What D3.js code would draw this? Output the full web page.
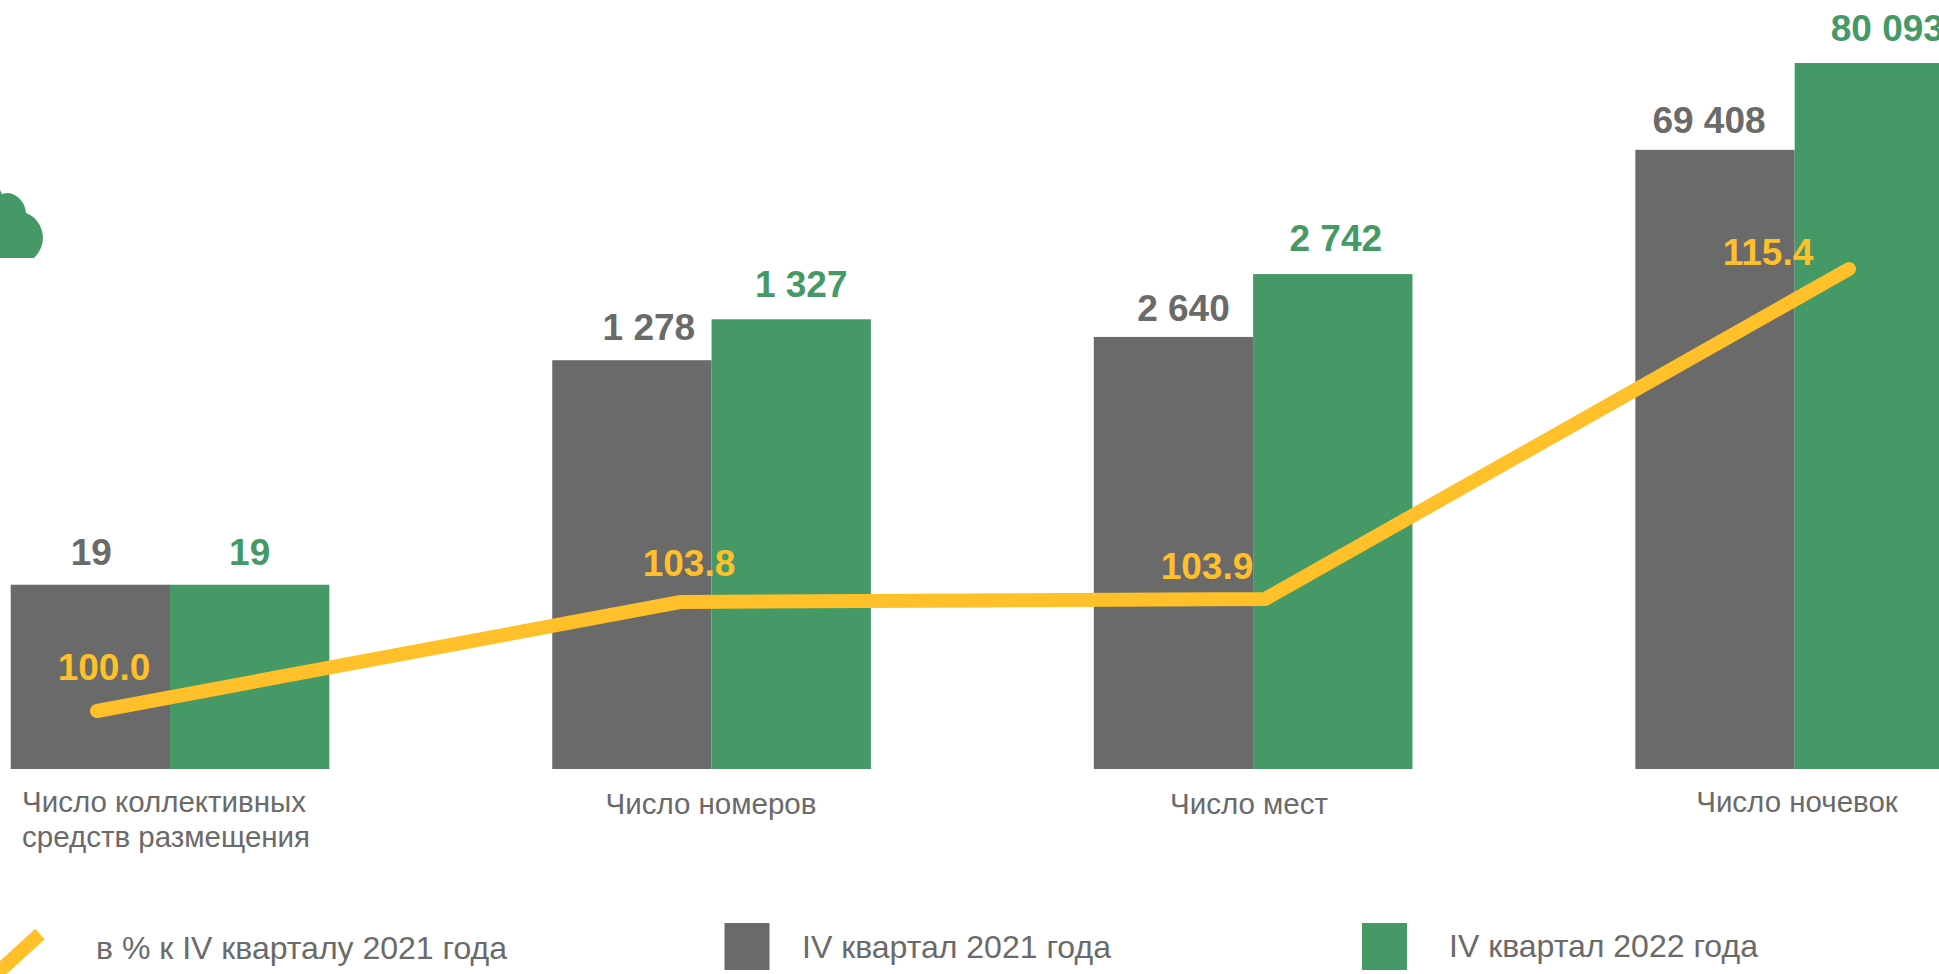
<!DOCTYPE html>
<html lang="ru">
<head>
<meta charset="utf-8">
<title>Коллективные средства размещения</title>
<script src="https://cdn.jsdelivr.net/npm/d3@7"></script>
<style>
  html, body { margin: 0; padding: 0; background: #fff; overflow: hidden; }
  svg { display: block; }
  text { font-family: "Liberation Sans", Arial, sans-serif; }
</style>
</head>
<body>
<div id="vis-display"></div>
<script>
const CATEGORIES = ["Число коллективных средств размещения", "Число номеров", "Число мест", "Число ночевок"];
const SERIES = ["IV квартал 2021 года", "IV квартал 2022 года"];
const LINE_NAME = "в % к IV кварталу 2021 года";

const LABELS_2021 = ["19", "1 278", "2 640", "69 408"];
const LABELS_2022 = ["19", "1 327", "2 742", "80 093"];

// The bars are not to scale with their labels, so these are drawn heights (tallest bar = 100)
const HEIGHTS_2021 = [26.1, 57.9, 61.2, 87.7];
const HEIGHTS_2022 = [26.1, 63.7, 70.1, 100];

const PERCENT = [100.0, 103.8, 103.9, 115.4];

const GREY = "#6a6a6a";
const GREEN = "#459966";
const YELLOW = "#ffc02a";

const W = 1939, H = 974;

const svg = d3.select("#vis-display").append("svg")
  .attr("width", W)
  .attr("height", H);

// ── Scales ───────────────────────────────────────────────────────────────────

const xGroup = d3.scaleBand()
  .domain(CATEGORIES)
  .range([10.7, 1954])
  .paddingInner(0.4116);

const xBar = d3.scaleBand()
  .domain(SERIES)
  .range([0, xGroup.bandwidth()]);

const yBar = d3.scaleLinear()
  .domain([0, 100])
  .range([769, 63]);

const xLine = d3.scalePoint()
  .domain(CATEGORIES)
  .range([97, 1849]);

const yLine = d3.scaleLinear()
  .domain([100, 115.4])
  .range([711, 269]);

// ── Cloud fragment at the left edge ──────────────────────────────────────────

svg.append("path")
  .attr("d", "M-4,258 L34,258 C40,252 43,245 43,238 C43,226 35,216 26,213 C25,201 16,193 7,193 L2,194 L0,190 L-4,190 Z")
  .attr("fill", GREEN);

// ── Bars ─────────────────────────────────────────────────────────────────────

const barRows = [
  { series: SERIES[0], color: GREY, heights: HEIGHTS_2021, labels: LABELS_2021,
    dx: [1, 17, 10, -6], base: [565, 340, 321, 133] },
  { series: SERIES[1], color: GREEN, heights: HEIGHTS_2022, labels: LABELS_2022,
    dx: [0, 10, 3, 13], base: [565, 297, 251, 41] },
];

barRows.forEach(row => {
  const g = svg.append("g");

  g.selectAll("rect")
    .data(CATEGORIES)
    .join("rect")
      .attr("x", d => xGroup(d) + xBar(row.series))
      .attr("y", (d, i) => yBar(row.heights[i]))
      .attr("width", xBar.bandwidth())
      .attr("height", (d, i) => yBar(0) - yBar(row.heights[i]))
      .attr("fill", row.color);

  g.selectAll("text")
    .data(CATEGORIES)
    .join("text")
      .attr("x", (d, i) => xGroup(d) + xBar(row.series) + xBar.bandwidth() / 2 + row.dx[i])
      .attr("y", (d, i) => row.base[i])
      .attr("text-anchor", "middle")
      .style("font-size", "37px")
      .style("font-weight", "bold")
      .style("fill", row.color)
      .text((d, i) => row.labels[i]);
});

// ── Percent line ─────────────────────────────────────────────────────────────

const line = d3.line()
  .x((d, i) => xLine(CATEGORIES[i]))
  .y(d => yLine(d));

svg.append("path")
  .attr("d", line(PERCENT))
  .attr("fill", "none")
  .attr("stroke", YELLOW)
  .attr("stroke-width", 14)
  .attr("stroke-linecap", "round")
  .attr("stroke-linejoin", "round");

const lineLabelDx = [7, 8, -58, -81];
const lineLabelDy = [-31, -26, -20, -4];

svg.append("g")
  .selectAll("text")
  .data(PERCENT)
  .join("text")
    .attr("x", (d, i) => xLine(CATEGORIES[i]) + lineLabelDx[i])
    .attr("y", (d, i) => yLine(d) + lineLabelDy[i])
    .attr("text-anchor", "middle")
    .style("font-size", "37px")
    .style("font-weight", "bold")
    .style("fill", YELLOW)
    .text(d => d.toFixed(1));

// ── Category labels ──────────────────────────────────────────────────────────

const catLabel = (lines, x, y, anchor) => {
  svg.append("text")
    .attr("x", x)
    .attr("y", y)
    .attr("text-anchor", anchor)
    .style("font-size", "29.5px")
    .style("fill", GREY)
    .selectAll("tspan")
    .data(lines)
    .join("tspan")
      .attr("x", x)
      .attr("dy", (d, i) => i ? 35 : 0)
      .text(d => d);
};

catLabel(["Число коллективных", "средств размещения"], 22, 812, "start");
catLabel([CATEGORIES[1]], 711, 814, "middle");
catLabel([CATEGORIES[2]], 1249, 814, "middle");
catLabel([CATEGORIES[3]], 1797, 812, "middle");

// ── Legend ───────────────────────────────────────────────────────────────────

svg.append("line")
  .attr("x1", -6).attr("y1", 976)
  .attr("x2", 40).attr("y2", 934)
  .attr("stroke", YELLOW)
  .attr("stroke-width", 14);

const legendText = (label, x, y) => {
  svg.append("text")
    .attr("x", x)
    .attr("y", y)
    .style("font-size", "32px")
    .style("fill", GREY)
    .text(label);
};

legendText(LINE_NAME, 96, 959);

[[SERIES[0], GREY, 724.5, 802, 958], [SERIES[1], GREEN, 1362, 1449, 957]].forEach(([label, color, x, tx, ty]) => {
  svg.append("rect")
    .attr("x", x).attr("y", 923)
    .attr("width", 45).attr("height", 47)
    .attr("fill", color);
  legendText(label, tx, ty);
});
</script>
</body>
</html>
